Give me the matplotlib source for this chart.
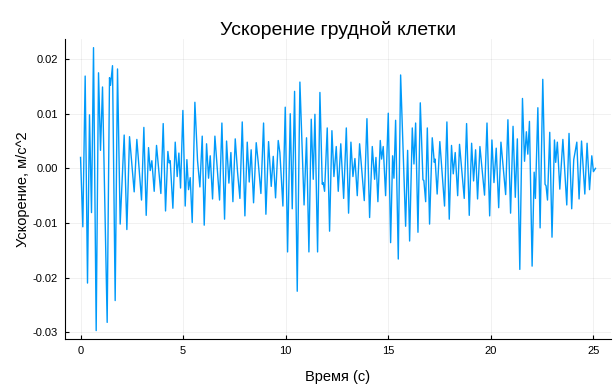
import matplotlib
matplotlib.use("Agg")
import matplotlib.pyplot as plt

plt.rcParams['font.family'] = ['Liberation Sans', 'DejaVu Sans']
plt.rcParams['axes.unicode_minus'] = False

title = "Ускорение грудной клетки"
xlabel = "Время (с)"
ylabel = "Ускорение, м/с^2"

t = [0.000, 0.112, 0.226, 0.340, 0.437, 0.535, 0.633, 0.763, 0.877, 0.974,
     1.072, 1.299, 1.413, 1.462, 1.559, 1.689, 1.803, 1.933, 2.128, 2.259,
     2.389, 2.616, 2.746, 2.974, 3.088, 3.202, 3.316, 3.397, 3.478, 3.592,
     3.706, 3.917, 4.031, 4.145, 4.259, 4.324, 4.373, 4.503, 4.617, 4.714,
     4.795, 4.877, 4.991, 5.104, 5.186, 5.267, 5.348, 5.446, 5.576, 5.706,
     5.820, 5.934, 6.031, 6.145, 6.243, 6.324, 6.438, 6.552, 6.682, 6.779,
     6.893, 7.023, 7.121, 7.235, 7.332, 7.430, 7.544, 7.657, 7.771, 7.885,
     8.015, 8.129, 8.226, 8.320, 8.437, 8.567, 8.665, 8.795, 8.925, 9.039,
     9.169, 9.299, 9.397, 9.510, 9.640, 9.720, 9.868, 9.982, 10.096, 10.226,
     10.323, 10.437, 10.567, 10.697, 10.900, 11.020, 11.136, 11.250, 11.348, 11.429,
     11.559, 11.673, 11.787, 11.830, 11.900, 12.030, 12.144, 12.258, 12.356, 12.470,
     12.567, 12.690, 12.830, 12.960, 13.070, 13.185, 13.283, 13.380, 13.494, 13.608,
     13.836, 13.966, 14.096, 14.226, 14.340, 14.405, 14.500, 14.616, 14.680, 14.760,
     14.876, 15.006, 15.120, 15.218, 15.283, 15.364, 15.494, 15.608, 15.852, 15.950,
     16.047, 16.177, 16.259, 16.340, 16.454, 16.567, 16.697, 16.740, 16.830, 16.910,
     17.020, 17.150, 17.250, 17.290, 17.390, 17.520, 17.750, 17.865, 17.980, 18.090,
     18.175, 18.270, 18.390, 18.480, 18.710, 18.825, 18.955, 19.070, 19.166, 19.264,
     19.360, 19.475, 19.700, 19.820, 19.950, 20.060, 20.160, 20.270, 20.390, 20.500,
     20.730, 20.840, 20.970, 21.090, 21.200, 21.300, 21.420, 21.550, 21.650, 21.740,
     21.810, 21.890, 22.020, 22.120, 22.180, 22.300, 22.410, 22.540, 22.650, 22.700,
     22.770, 22.880, 22.990, 23.110, 23.170, 23.250, 23.370, 23.520, 23.710, 23.820,
     23.950, 24.050, 24.200, 24.310, 24.430, 24.590, 24.700, 24.820, 24.930, 25.010,
     25.110]

accel = [0.0020, -0.0107, 0.0169, -0.0210, 0.0098, -0.0081, 0.0221, -0.0297, 0.0175, 0.0033,
         0.0149, -0.0282, 0.0166, 0.0152, 0.0188, -0.0242, 0.0182, -0.0102, 0.0061, -0.0112,
         0.0058, -0.0043, 0.0053, -0.0058, 0.0075, -0.0086, 0.0038, -0.0004, 0.0014, -0.0042,
         0.0042, -0.0046, 0.0082, -0.0078, 0.0031, 0.0010, 0.0014, -0.0073, 0.0048, -0.0015,
         0.0028, -0.0036, 0.0106, -0.0069, 0.0016, -0.0039, -0.0017, -0.0099, 0.0121, 0.0014,
         -0.0034, 0.0059, -0.0104, 0.0045, -0.0018, 0.0023, -0.0056, 0.0059, -0.0007, -0.0058,
         0.0083, -0.0093, 0.0050, -0.0027, 0.0029, -0.0061, 0.0054, -0.0007, -0.0055, 0.0085,
         -0.0087, 0.0048, -0.0025, 0.0034, -0.0063, 0.0047, 0.0011, -0.0046, 0.0083, -0.0084,
         0.0049, -0.0033, 0.0022, -0.0054, 0.0051, 0.0029, -0.0069, 0.0112, -0.0153, 0.0100,
         -0.0074, 0.0141, -0.0225, 0.0158, -0.0067, 0.0056, -0.0153, 0.0090, -0.0020, 0.0099,
         -0.0153, 0.0139, -0.0029, -0.0026, -0.0042, 0.0074, -0.0115, 0.0069, -0.0015, 0.0040,
         -0.0042, 0.0045, -0.0055, 0.0074, -0.0082, 0.0048, -0.0015, 0.0018, -0.0050, 0.0045,
         -0.0059, 0.0091, -0.0090, 0.0040, -0.0020, 0.0020, -0.0061, 0.0051, 0.0017, 0.0040,
         -0.0050, 0.0101, -0.0136, 0.0023, -0.0018, 0.0088, -0.0166, 0.0171, -0.0106, 0.0033,
         -0.0133, 0.0074, 0.0008, 0.0083, -0.0117, 0.0120, -0.0021, -0.0022, -0.0061, 0.0074,
         -0.0102, 0.0056, 0.0011, 0.0017, -0.0047, 0.0049, -0.0069, 0.0085, -0.0093, 0.0042,
         -0.0010, 0.0029, -0.0050, 0.0044, -0.0055, 0.0082, -0.0086, 0.0046, -0.0023, 0.0034,
         -0.0056, 0.0040, -0.0049, 0.0083, -0.0087, 0.0052, -0.0026, 0.0037, -0.0072, 0.0048,
         -0.0048, 0.0089, -0.0082, 0.0077, -0.0053, 0.0054, -0.0185, 0.0128, 0.0013, 0.0067,
         0.0026, 0.0086, -0.0179, -0.0007, -0.0055, 0.0111, -0.0109, 0.0163, -0.0029, -0.0032,
         -0.0058, 0.0066, -0.0126, 0.0052, 0.0011, 0.0048, -0.0038, 0.0053, -0.0067, 0.0064,
         -0.0074, 0.0016, 0.0048, -0.0056, 0.0050, -0.0047, 0.0046, -0.0039, 0.0023, -0.0006,
         0.0000]

xticks = [0, 5, 10, 15, 20, 25]
yticks = [-0.03, -0.02, -0.01, 0.00, 0.01, 0.02]
ytick_labels = ["-0.03", "-0.02", "-0.01", "0.00", "0.01", "0.02"]

fig = plt.figure(figsize=(6.14, 3.84), dpi=100)
ax = fig.add_axes([0.106, 0.117, 0.889, 0.781])

ax.plot(t, accel, color="#009AFA", linewidth=1.0)

# Plots.jl style 3% widening
xmin, xmax = min(t), max(t)
ymin, ymax = min(accel), max(accel)
dx = (xmax - xmin) * 0.03
dy = (ymax - ymin) * 0.03
ax.set_xlim(xmin - dx, xmax + dx)
ax.set_ylim(ymin - dy, ymax + dy)

ax.set_xticks(xticks)
ax.set_yticks(yticks)
ax.set_yticklabels(ytick_labels)
ax.tick_params(direction="in", length=3, width=0.8, labelsize=8, color="black", pad=5)

ax.grid(True, color="black", alpha=0.08, linewidth=0.5)
for s in ["top", "right"]:
    ax.spines[s].set_visible(False)
for s in ["left", "bottom"]:
    ax.spines[s].set_linewidth(0.8)

ax.set_title(title, fontsize=14, pad=-3)
ax.set_xlabel(xlabel, fontsize=10.5, labelpad=10)
ax.set_ylabel(ylabel, fontsize=10.5, labelpad=2)

fig.savefig("out.png", dpi=100)
